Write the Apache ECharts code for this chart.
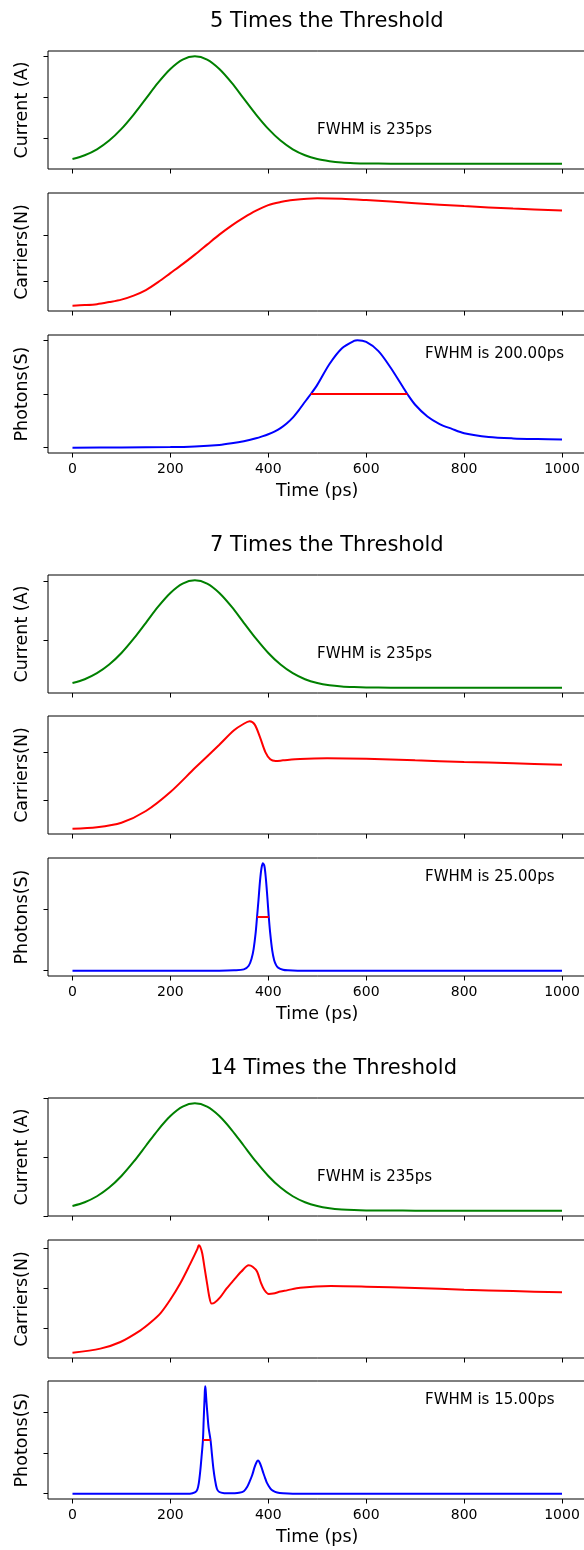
<!DOCTYPE html>
<html><head><meta charset="utf-8">
<script src="https://cdn.jsdelivr.net/npm/echarts@6/dist/echarts.min.js"></script>
<style>html,body{margin:0;padding:0;overflow:hidden;background:#fff}#c{width:600px;height:1550px}</style>
</head><body><div id="c"></div><script>
// ---- text ----
const groupTitles = ['5 Times the Threshold', '7 Times the Threshold', '14 Times the Threshold'];
const currentNote = 'FWHM is 235ps';
const photonNotes = ['FWHM is 200.00ps', 'FWHM is 25.00ps', 'FWHM is 15.00ps'];
const yNames = ['Current (A)', 'Carriers(N)', 'Photons(S)'];
const xName = 'Time (ps)';
const xTicks = [0, 200, 400, 600, 800, 1000];

// ---- current (A) ----
const tCur = [0,25,50,75,100,125,150,175,200,225,250,275,300,325,350,375,400,425,450,475,500,525,550,575,600,650,700,800,900,1000];
const cur5  = [0.0126,0.0149,0.0185,0.0238,0.0309,0.0396,0.0493,0.0590,0.0673,0.0730,0.0750,0.0730,0.0673,0.0590,0.0493,0.0396,0.0309,0.0238,0.0185,0.0149,0.0126,0.0113,0.0105,0.0101,0.0099,0.0098,0.0098,0.0098,0.0098,0.0098];
const cur7  = [0.0139,0.0171,0.0222,0.0295,0.0393,0.0514,0.0649,0.0785,0.0901,0.0980,0.1008,0.0980,0.0901,0.0785,0.0649,0.0514,0.0393,0.0295,0.0222,0.0171,0.0139,0.0120,0.0110,0.0105,0.0102,0.0100,0.0100,0.0100,0.0100,0.0100];
const cur14 = [0.0169,0.0233,0.0334,0.0481,0.0678,0.0920,0.1191,0.1462,0.1695,0.1854,0.1910,0.1854,0.1695,0.1462,0.1191,0.0920,0.0678,0.0481,0.0334,0.0233,0.0169,0.0131,0.0110,0.0099,0.0094,0.0091,0.0090,0.0090,0.0090,0.0090];
const curTicks5 = [0.025, 0.05, 0.075];
const curTicks7 = [0.05, 0.1];
const curTicks14 = [0, 0.1, 0.2];

// ---- carriers ----
const tCar5 = [0,25,50,75,100,125,150,175,200,225,250,275,300,325,350,375,400,425,450,500,550,600,700,800,900,1000];
const car5  = [1.243,1.249,1.259,1.281,1.307,1.350,1.409,1.495,1.591,1.687,1.789,1.896,2.003,2.100,2.185,2.260,2.319,2.351,2.373,2.391,2.387,2.373,2.340,2.308,2.282,2.260];
const tCar7 = [0,50,100,150,200,250,300,330,350,362,372,383,394,404,415,430,465,520,600,700,800,900,1000];
const car7  = [1.200,1.215,1.262,1.385,1.584,1.835,2.080,2.231,2.300,2.325,2.293,2.160,2.003,1.927,1.909,1.916,1.930,1.937,1.932,1.916,1.900,1.885,1.871];
const tCar14 = [0,57,98,139,160,180,200,220,240,255,258,261,265,270,275,280,284,290,302,315,329,345,360,368,377,385,392,401,410,425,438,465,528,600,700,800,900,1000];
const car14  = [1.196,1.246,1.329,1.475,1.575,1.690,1.860,2.060,2.300,2.490,2.538,2.520,2.440,2.250,2.060,1.880,1.810,1.820,1.891,2.000,2.100,2.210,2.288,2.270,2.210,2.070,1.980,1.930,1.935,1.960,1.975,2.009,2.029,2.021,2.004,1.984,1.966,1.950];
const carTicks = [1.5, 2.0, 2.5];

// ---- photons ----
const tPho5 = [0,100,200,250,300,325,350,375,387.5,400,412.5,425,437.5,450,462.5,475,487,500,525,550,575,582,600,625,650,675,684,700,725,750,775,800,850,900,950,1000];
const pho5  = [0.0,0.003,0.010,0.022,0.050,0.080,0.120,0.175,0.210,0.250,0.300,0.365,0.450,0.560,0.700,0.855,1.0,1.17,1.56,1.85,1.99,2.0,1.97,1.80,1.49,1.13,1.0,0.80,0.58,0.44,0.35,0.27,0.20,0.172,0.160,0.153];
const tPho7 = [0,300,330,350,360,366,370,374,377,380,383,386,389,392,395,398,401,404,408,412,416,420,430,440,460,500,1000];
const pho7  = [0,0,0.005,0.02,0.08,0.2,0.35,0.6,0.871,1.15,1.45,1.66,1.743,1.70,1.5,1.2,0.871,0.6,0.33,0.17,0.09,0.05,0.015,0.005,0,0,0];
const tPho14 = [0,240,250,255,258,261,264,266.5,268,270,271,272,274,276,278,282,285,288,291,295,300,310,320,330,340,350,357,362,367,372,376,379,382,386,390,393,397,404,410,418,430,450,500,1000];
const pho14  = [0,0,0.03,0.1,0.25,0.55,0.95,1.315,1.8,2.4,2.63,2.55,2.2,1.9,1.62,1.315,0.95,0.6,0.35,0.12,0.04,0.012,0.008,0.01,0.02,0.06,0.17,0.3,0.45,0.65,0.77,0.81,0.77,0.65,0.5,0.4,0.27,0.13,0.07,0.03,0.01,0,0,0];
const phoTicks = [0, 1, 2];

// FWHM markers on the photon plots
const fwhmStart = [487, 377, 266.5];
const fwhmEnd   = [684, 401, 282];
const fwhmLevel = [1.0, 0.871, 1.315];

// ---- layout ----
const gridLeft = 48, gridWidth = 538.5, gridHeight = 118;
const tops = [[51,193,335],[575,716,858],[1098,1240,1381]];
const titleY = [22, 546, 1069];
const colors = ['#008000', '#ff0000', '#0000ff'];
const FONT = 'DejaVu Sans';

const curvesT = [[tCur, tCar5, tPho5], [tCur, tCar7, tPho7], [tCur, tCar14, tPho14]];
const curvesV = [[cur5, car5, pho5], [cur7, car7, pho7], [cur14, car14, pho14]];
const ticksY = [[curTicks5, carTicks, phoTicks], [curTicks7, carTicks, phoTicks], [curTicks14, carTicks, phoTicks]];

const grids = [], xAxes = [], yAxes = [], series = [], graphics = [];
let idx = 0;
for (let g = 0; g < 3; g++) {
  for (let p = 0; p < 3; p++) {
    const ts = curvesT[g][p], vs = curvesV[g][p];
    const mn = Math.min(...vs), mx = Math.max(...vs), sp = mx - mn;
    const lo = mn - 0.05 * sp, hi = mx + 0.05 * sp;
    const yt = ticksY[g][p].filter(v => v >= lo - 1e-9 && v <= hi + 1e-9);
    const bottom = p === 2;
    grids.push({left: gridLeft, top: tops[g][p], width: gridWidth, height: gridHeight,
      show: true, borderColor: '#000', borderWidth: 1, backgroundColor: 'transparent'});
    xAxes.push({gridIndex: idx, type: 'value', min: -50, max: 1050, position: 'bottom',
      axisLine: {show: false, onZero: false},
      axisTick: {show: true, length: 4.5, lineStyle: {color: '#000', width: 1}, customValues: xTicks},
      axisLabel: {show: bottom, customValues: xTicks, margin: 9, color: '#000', fontSize: 14, fontFamily: FONT,
        formatter: v => String(v)},
      splitLine: {show: false},
      name: bottom ? xName : '', nameLocation: 'middle', nameGap: 29,
      nameTextStyle: {color: '#000', fontSize: 17.5, fontFamily: FONT}});
    yAxes.push({gridIndex: idx, type: 'value', min: lo, max: hi, position: 'left',
      axisLine: {show: false, onZero: false},
      axisTick: {show: true, length: 4.5, lineStyle: {color: '#000', width: 1}, customValues: yt},
      axisLabel: {show: false},
      splitLine: {show: false},
      name: yNames[p], nameLocation: 'middle', nameRotate: 90, nameGap: 17,
      nameTextStyle: {color: '#000', fontSize: 17.5, fontFamily: FONT}});
    series.push({type: 'line', xAxisIndex: idx, yAxisIndex: idx,
      data: ts.map((t, i) => [t, vs[i]]), showSymbol: false, smooth: 0.3,
      lineStyle: {color: colors[p], width: 2}, itemStyle: {color: colors[p]}, z: 2, animation: false});
    if (p === 2) {
      series.push({type: 'line', xAxisIndex: idx, yAxisIndex: idx,
        data: [[fwhmStart[g], fwhmLevel[g]], [fwhmEnd[g], fwhmLevel[g]]], showSymbol: false,
        lineStyle: {color: '#ff0000', width: 2}, z: 3, animation: false});
    }
    idx++;
  }
  graphics.push({type: 'text', x: 210, y: titleY[g],
    style: {text: groupTitles[g], fontSize: 21, fontFamily: FONT, fill: '#000', align: 'left', verticalAlign: 'middle'}});
  graphics.push({type: 'text', x: 317, y: tops[g][0] + 79,
    style: {text: currentNote, fontSize: 15, fontFamily: FONT, fill: '#000', align: 'left', verticalAlign: 'middle'}});
  graphics.push({type: 'text', x: 425, y: tops[g][2] + 19.5,
    style: {text: photonNotes[g], fontSize: 15, fontFamily: FONT, fill: '#000', align: 'left', verticalAlign: 'middle'}});
}

const chart = echarts.init(document.getElementById('c'), null, {renderer: 'canvas'});
chart.setOption({animation: false, backgroundColor: '#fff', grid: grids, xAxis: xAxes, yAxis: yAxes, series: series, graphic: graphics});
</script></body></html>
